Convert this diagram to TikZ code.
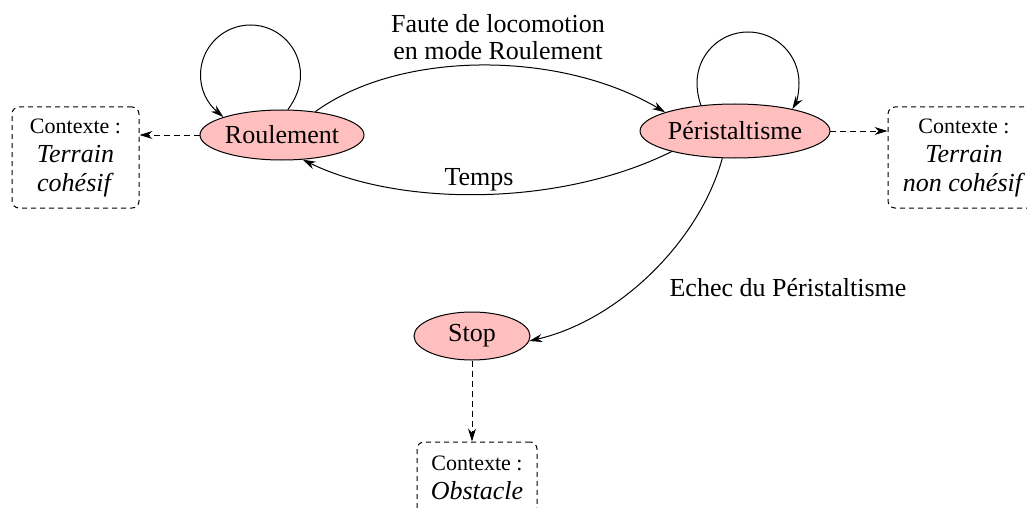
\documentclass[tikz,border=0pt]{standalone}
\usepackage{fontspec}
\setmainfont{Liberation Serif}
\usetikzlibrary{arrows.meta,shapes.geometric}
\definecolor{statefill}{RGB}{255,191,191}
\begin{document}
\begin{tikzpicture}[x=1pt,y=-1pt,
  state/.style={ellipse,draw,line width=1pt,fill=statefill,inner sep=0pt,font=\fontsize{26}{30}\selectfont},
  ctx/.style={draw,line width=1pt,dash pattern=on 5pt off 4pt,rounded corners=7pt,align=center,inner sep=0pt,font=\fontsize{26}{29}\selectfont},
  lbl/.style={inner sep=0pt,align=center,font=\fontsize{26}{27}\selectfont},
  tr/.style={-{Stealth[length=13pt,width=8pt]},line width=1pt},
  ctxarrow/.style={tr,dash pattern=on 6pt off 4pt}]
\useasboundingbox (0,0) rectangle (1027,508);
\clip (0,0) rectangle (1027,508);
% states
\node[state,minimum width=164pt,minimum height=50pt] (R) at (282,135) {Roulement};
\node[state,minimum width=160pt,minimum height=54pt] (P) at (735,131) {Péristaltisme};
\node[state,minimum width=116pt,minimum height=48pt] (S) at (472,336) {Stop};
% context boxes
\node[ctx,minimum width=127pt,minimum height=101pt] (L) at (75.5,157.5)
  {{\fontsize{22}{29}\selectfont Contexte :}\\ \textit{Terrain}\\ \textit{cohésif}};
\node[ctx,minimum width=152pt,minimum height=101pt] (Rb) at (964,157.5)
  {{\fontsize{22}{29}\selectfont Contexte :}\\ \textit{Terrain}\\ \textit{non cohésif}};
\node[ctx,minimum width=120pt,minimum height=72pt] (B) at (477,478)
  {{\fontsize{22}{29}\selectfont Contexte :}\\ \textit{Obstacle}};
% transitions
\draw[tr] (R.35) .. controls (400,50) and (560,50) .. (P.165);
\draw[tr] (P.198) .. controls (560,207) and (400,207) .. (R.-50);
\draw[tr] (P.-115) .. controls (700,240) and (620,320) .. (S.-5);
% self loops
\draw[tr] (R.77) .. controls (295,100) and (300.5,88) .. (300.5,75)
  .. controls (300.5,47.4) and (278.1,25) .. (250.5,25)
  .. controls (222.9,25) and (200.5,47.4) .. (200.5,75)
  .. controls (200.5,90) and (207,103) .. (R.163);
\draw[tr] (P.143) .. controls (699,100) and (697,92) .. (697,83)
  .. controls (697,54.8) and (719.8,32) .. (748,32)
  .. controls (776.2,32) and (799,54.8) .. (799,83)
  .. controls (799,95) and (796,103) .. (P.21);
% context arrows
\draw[ctxarrow] (R.west) -- (R.west -| L.east);
\draw[ctxarrow] (P.east) -- (P.east -| Rb.west);
\draw[ctxarrow] (S.south) -- (S.south |- B.north);
% labels
\node[lbl] (l1) at (498,37) {Faute de locomotion\\en mode Roulement};
\node[lbl] (l2) at (479,180) {Temps};
\node[lbl] (l3) at (788,288) {Echec du Péristaltisme};
\end{tikzpicture}
\end{document}
